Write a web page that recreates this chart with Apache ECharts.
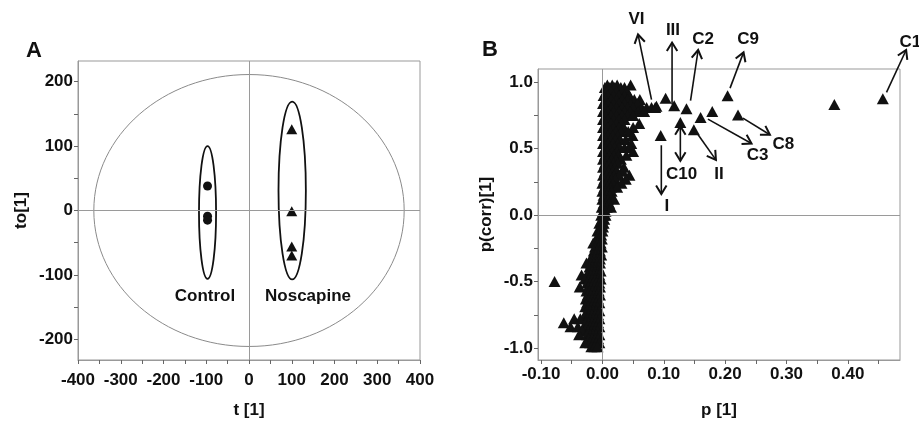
<!DOCTYPE html>
<html>
<head>
<meta charset="utf-8">
<script src="https://cdn.jsdelivr.net/npm/echarts@6/dist/echarts.min.js"></script>
<style>
  html, body { margin: 0; padding: 0; background: #fff; }
  #chart { width: 919px; height: 424px; }
</style>
</head>
<body>
<div id="chart"></div>
<script>
// ---------- panel A : scores plot
const controlPts = [[-97, 38], [-97, -9], [-97, -15]];
const noscapinePts = [[100, 126], [100, -1], [100, -56], [100, -70]];
// ellipses as [cx, cy, rx, ry] in data units
const hotelling = [[0, 0, 363, 211]];
const groupEllipses = [[-97, -3, 20, 103], [101, 31, 32, 138]];
const groupLabels = [["Control", -103, -133], ["Noscapine", 138, -133]];
const tTicks = [-400, -350, -300, -250, -200, -150, -100, -50, 0, 50, 100, 150, 200, 250, 300, 350, 400];
const tLabels = [-400, -300, -200, -100, 0, 100, 200, 300, 400];
const toTicks = [-200, -150, -100, -50, 0, 50, 100, 150, 200];
const toLabels = [-200, -100, 0, 100, 200];

// ---------- panel B : S-plot
// rows of the dense cloud: [p(corr), [p values]]
const sRows = [
  [0.98, [0.008, 0.016, 0.024, 0.046]],
  [0.96, [0.004, 0.012, 0.020, 0.030, 0.036]],
  [0.93, [0.006, 0.014, 0.023, 0.032, 0.040]],
  [0.90, [0.002, 0.009, 0.018, 0.027, 0.036, 0.044]],
  [0.87, [0.005, 0.014, 0.023, 0.032, 0.041, 0.052, 0.061]],
  [0.84, [0.001, 0.009, 0.018, 0.027, 0.036, 0.046, 0.057]],
  [0.81, [0.005, 0.014, 0.023, 0.032, 0.041, 0.050, 0.064, 0.072, 0.080, 0.086]],
  [0.78, [0.001, 0.009, 0.018, 0.027, 0.036, 0.045, 0.058, 0.068]],
  [0.75, [0.005, 0.014, 0.023, 0.032, 0.041, 0.050]],
  [0.72, [0.001, 0.009, 0.018, 0.027, 0.036]],
  [0.69, [0.005, 0.014, 0.023, 0.031, 0.060]],
  [0.66, [0.001, 0.009, 0.018, 0.027, 0.035, 0.050]],
  [0.63, [0.005, 0.013, 0.022, 0.030, 0.042]],
  [0.60, [0.001, 0.009, 0.017, 0.025, 0.049]],
  [0.57, [0.005, 0.013, 0.021, 0.029, 0.038]],
  [0.54, [0.001, 0.009, 0.017, 0.025, 0.047]],
  [0.51, [0.005, 0.012, 0.020, 0.027, 0.036, 0.044]],
  [0.48, [0.001, 0.008, 0.016, 0.024, 0.050]],
  [0.45, [0.004, 0.011, 0.019, 0.026, 0.039]],
  [0.42, [0.001, 0.008, 0.015, 0.022, 0.030]],
  [0.39, [0.004, 0.011, 0.018, 0.025]],
  [0.36, [0.001, 0.007, 0.014, 0.020, 0.035]],
  [0.33, [0.004, 0.010, 0.017, 0.023, 0.033]],
  [0.30, [0.001, 0.007, 0.013, 0.019, 0.027, 0.044]],
  [0.27, [0.003, 0.009, 0.015, 0.021, 0.038]],
  [0.24, [0.000, 0.006, 0.012, 0.017, 0.031]],
  [0.21, [0.003, 0.008, 0.014, 0.024]],
  [0.18, [0.000, 0.005, 0.010, 0.015]],
  [0.15, [0.002, 0.007, 0.012]],
  [0.12, [0.000, 0.004, 0.009, 0.019]],
  [0.09, [0.002, 0.006, 0.011]],
  [0.06, [-0.001, 0.003, 0.007, 0.014]],
  [0.03, [0.001, 0.005]],
  [0.00, [-0.002, 0.002, 0.005]],
  [-0.03, [-0.001, 0.003]],
  [-0.06, [-0.005, -0.001, 0.002]],
  [-0.09, [-0.003, 0.001]],
  [-0.12, [-0.008, -0.004, 0.000]],
  [-0.15, [-0.006, -0.002]],
  [-0.18, [-0.010, -0.005, -0.001]],
  [-0.21, [-0.015, -0.008, -0.003]],
  [-0.24, [-0.012, -0.006, -0.001]],
  [-0.27, [-0.014, -0.009, -0.004]],
  [-0.30, [-0.016, -0.011, -0.006, -0.002]],
  [-0.33, [-0.018, -0.013, -0.008, -0.004]],
  [-0.36, [-0.026, -0.019, -0.014, -0.009, -0.004]],
  [-0.39, [-0.021, -0.016, -0.011, -0.006]],
  [-0.42, [-0.022, -0.017, -0.012, -0.007, -0.003]],
  [-0.45, [-0.034, -0.024, -0.019, -0.014, -0.009, -0.005]],
  [-0.48, [-0.029, -0.022, -0.017, -0.012, -0.007, -0.003]],
  [-0.51, [-0.025, -0.020, -0.015, -0.010, -0.005]],
  [-0.54, [-0.037, -0.023, -0.018, -0.013, -0.008, -0.004]],
  [-0.57, [-0.026, -0.021, -0.016, -0.011, -0.006]],
  [-0.60, [-0.024, -0.019, -0.014, -0.009, -0.004]],
  [-0.63, [-0.027, -0.022, -0.017, -0.012, -0.007]],
  [-0.66, [-0.025, -0.020, -0.015, -0.010, -0.005]],
  [-0.69, [-0.028, -0.023, -0.018, -0.013, -0.008]],
  [-0.72, [-0.025, -0.020, -0.015, -0.010, -0.005]],
  [-0.75, [-0.027, -0.022, -0.017, -0.012, -0.007]],
  [-0.78, [-0.046, -0.036, -0.025, -0.020, -0.015, -0.010, -0.005]],
  [-0.81, [-0.063, -0.027, -0.022, -0.017, -0.012, -0.007]],
  [-0.84, [-0.052, -0.040, -0.025, -0.020, -0.015, -0.010, -0.005]],
  [-0.87, [-0.033, -0.023, -0.018, -0.013, -0.008]],
  [-0.90, [-0.038, -0.025, -0.020, -0.015, -0.010, -0.005]],
  [-0.93, [-0.022, -0.017, -0.012, -0.007]],
  [-0.96, [-0.028, -0.020, -0.015, -0.010, -0.005]],
  [-0.99, [-0.018, -0.013, -0.008]]
];
// isolated variables
const sSingles = [
  [-0.078, -0.50],
  [0.457, 0.876], [0.378, 0.832], [0.204, 0.899], [0.137, 0.80],
  [0.117, 0.823], [0.103, 0.88], [0.179, 0.78], [0.160, 0.735],
  [0.221, 0.754], [0.127, 0.698], [0.149, 0.642], [0.095, 0.60], [0.088, 0.82]
];
// annotation arrows: [fromP, fromCorr, toP, toCorr, labelP, labelCorr]
const arrowNames = ["C1", "C9", "C2", "III", "VI", "C3", "C8", "C10", "II", "I"];
const arrowPos = [
  [0.463, 0.924, 0.495, 1.243, 0.502, 1.30],
  [0.208, 0.956, 0.230, 1.225, 0.2375, 1.324],
  [0.1436, 0.862, 0.156, 1.243, 0.164, 1.324],
  [0.1135, 0.833, 0.1135, 1.299, 0.115, 1.39],
  [0.080, 0.870, 0.058, 1.36, 0.0555, 1.473],
  [0.172, 0.723, 0.243, 0.539, 0.253, 0.449],
  [0.229, 0.730, 0.273, 0.605, 0.295, 0.532],
  [0.127, 0.669, 0.127, 0.409, 0.129, 0.306],
  [0.156, 0.605, 0.185, 0.416, 0.190, 0.306],
  [0.096, 0.526, 0.096, 0.159, 0.105, 0.066]
];
const arrowBoth = [false, false, false, false, false, false, false, true, false, false];
const pTicks = [-0.10, -0.05, 0, 0.05, 0.10, 0.15, 0.20, 0.25, 0.30, 0.35, 0.40, 0.45];
const pLabels = [-0.10, 0, 0.10, 0.20, 0.30, 0.40];
const corrTicks = [-1.0, -0.75, -0.5, -0.25, 0, 0.25, 0.5, 0.75, 1.0];
const corrLabels = [-1.0, -0.5, 0, 0.5, 1.0];

const sPoints = sRows.flatMap(r => r[1].map(x => [x, r[0]])).concat(sSingles);

const FONT = "Liberation Sans";
const txt = { color: "#111", fontFamily: FONT, fontWeight: "bold", fontSize: 17 };
const solid = { color: "#111", opacity: 1, borderWidth: 0 };

var dom = document.getElementById("chart");
var myChart = echarts.init(dom, null, { renderer: "canvas" });

function axisCommon(ticks, labels, fmt, margin) {
  return {
    type: "value",
    axisLine: { show: true, onZero: false, lineStyle: { color: "#999", width: 1 } },
    axisTick: { show: true, customValues: ticks, length: 4, lineStyle: { color: "#666" } },
    axisLabel: Object.assign({ customValues: labels, margin: margin, formatter: fmt }, txt),
    splitLine: { show: false },
    nameLocation: "middle",
    nameTextStyle: txt
  };
}

function renderEllipse(params, api) {
  const c = api.coord([api.value(0), api.value(1)]);
  const s = api.size([api.value(2), api.value(3)]);
  const thin = params.seriesName === "hotelling";
  return {
    type: "ellipse",
    shape: { cx: c[0], cy: c[1], rx: s[0], ry: s[1] },
    style: { fill: null, stroke: thin ? "#8a8a8a" : "#111", lineWidth: thin ? 1 : 1.8 }
  };
}

function head(from, to) {
  const ang = Math.atan2(to[1] - from[1], to[0] - from[0]);
  const len = 10, spread = 0.55;
  return {
    type: "polyline",
    shape: {
      points: [
        [to[0] - len * Math.cos(ang - spread), to[1] - len * Math.sin(ang - spread)],
        [to[0], to[1]],
        [to[0] - len * Math.cos(ang + spread), to[1] - len * Math.sin(ang + spread)]
      ]
    },
    style: { stroke: "#111", lineWidth: 2, fill: null }
  };
}

function renderArrow(params, api) {
  const i = params.dataIndex;
  const p1 = api.coord([api.value(0), api.value(1)]);
  const p2 = api.coord([api.value(2), api.value(3)]);
  const lab = api.coord([api.value(4), api.value(5)]);
  const kids = [
    { type: "line", shape: { x1: p1[0], y1: p1[1], x2: p2[0], y2: p2[1] }, style: { stroke: "#111", lineWidth: 1.6 } },
    head(p1, p2)
  ];
  if (arrowBoth[i]) kids.push(head(p2, p1));
  kids.push({
    type: "text", x: lab[0], y: lab[1],
    style: { text: arrowNames[i], fill: "#111", font: "bold 17px " + FONT, align: "center", verticalAlign: "middle" }
  });
  return { type: "group", children: kids };
}

const zeroLines = {
  silent: true, symbol: "none", label: { show: false },
  lineStyle: { color: "#9a9a9a", type: "solid", width: 1, opacity: 1 },
  data: [{ xAxis: 0 }, { yAxis: 0 }]
};

var option = {
  animation: false,
  title: [
    { text: "A", left: 21, top: 35, textStyle: { fontFamily: FONT, fontWeight: "bold", fontSize: 22, color: "#111" } },
    { text: "B", left: 477, top: 34, textStyle: { fontFamily: FONT, fontWeight: "bold", fontSize: 22, color: "#111" } }
  ],
  grid: [
    { left: 78, top: 61, width: 342, height: 301, show: true, borderColor: "#999", borderWidth: 1 },
    { left: 538, top: 69, width: 362, height: 297, show: true, borderColor: "#999", borderWidth: 1 }
  ],
  xAxis: [
    Object.assign(axisCommon(tTicks, tLabels, v => String(v), 12), { gridIndex: 0, min: -400, max: 400, name: "t [1]", nameGap: 42 }),
    Object.assign(axisCommon(pTicks, pLabels, v => v.toFixed(2), 6), { gridIndex: 1, min: -0.105, max: 0.485, name: "p [1]", nameGap: 42 })
  ],
  yAxis: [
    Object.assign(axisCommon(toTicks, toLabels, v => String(v), 5), { gridIndex: 0, min: -232, max: 232, name: "to[1]", nameGap: 48 }),
    Object.assign(axisCommon(corrTicks, corrLabels, v => v.toFixed(1), 5), { gridIndex: 1, min: -1.09, max: 1.1, name: "p(corr)[1]", nameGap: 43 })
  ],
  series: [
    {
      name: "hotelling", type: "custom", xAxisIndex: 0, yAxisIndex: 0, clip: false,
      renderItem: renderEllipse, data: hotelling, silent: true, z: 1
    },
    {
      name: "groups", type: "custom", xAxisIndex: 0, yAxisIndex: 0, clip: false,
      renderItem: renderEllipse, data: groupEllipses, silent: true, z: 3
    },
    {
      name: "Control", type: "scatter", xAxisIndex: 0, yAxisIndex: 0,
      symbol: "circle", symbolSize: 9, itemStyle: solid, data: controlPts, z: 4,
      markLine: zeroLines
    },
    {
      name: "Noscapine", type: "scatter", xAxisIndex: 0, yAxisIndex: 0,
      symbol: "triangle", symbolSize: [11, 10], itemStyle: solid, data: noscapinePts, z: 4
    },
    {
      name: "groupLabels", type: "scatter", xAxisIndex: 0, yAxisIndex: 0, symbolSize: 0, silent: true,
      itemStyle: solid,
      data: groupLabels.map(g => ({ name: g[0], value: [g[1], g[2]] })),
      label: Object.assign({ show: true, position: "inside", formatter: p => p.name, opacity: 1 }, txt)
    },
    {
      name: "S-plot", type: "scatter", xAxisIndex: 1, yAxisIndex: 1,
      symbol: "triangle", symbolSize: [12, 11], itemStyle: solid, data: sPoints, z: 4,
      markLine: zeroLines
    },
    {
      name: "arrows", type: "custom", xAxisIndex: 1, yAxisIndex: 1, clip: false, silent: true,
      renderItem: renderArrow, data: arrowPos, z: 5
    }
  ]
};

if (option && typeof option === "object") {
  myChart.setOption(option);
}
window.addEventListener("resize", myChart.resize);
</script>
</body>
</html>
